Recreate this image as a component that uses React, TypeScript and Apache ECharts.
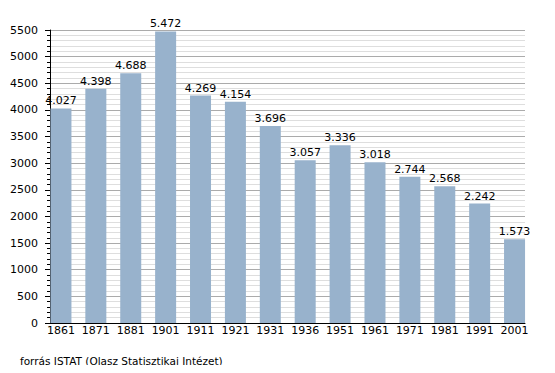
import React, { useEffect, useRef } from "react";
import * as echarts from "echarts";

const years = ["1861", "1871", "1881", "1901", "1911", "1921", "1931", "1936", "1951", "1961", "1971", "1981", "1991", "2001"];
const population = [4027, 4398, 4688, 5472, 4269, 4154, 3696, 3057, 3336, 3018, 2744, 2568, 2242, 1573];
const sourceNote = "forrás ISTAT (Olasz Statisztikai Intézet)";

const FONT = "DejaVu Sans";

function fmt(v: number): string {
  const th = Math.floor(v / 1000);
  const rest = String(v % 1000).padStart(3, "0");
  return th > 0 ? `${th}.${rest}` : String(v);
}

export default function App() {
  const ref = useRef<HTMLDivElement>(null);
  useEffect(() => {
    if (!ref.current) return;
    const chart = echarts.init(ref.current, null, { renderer: "svg" });
    chart.setOption({
      animation: false,
      backgroundColor: "#ffffff",
      textStyle: { fontFamily: FONT },
      grid: [
        { left: 50, right: 30, top: 30, bottom: 50 },
        { left: 43.5, right: 23, top: 30, bottom: 50 },
      ],
      xAxis: [
        {
          type: "category",
          gridIndex: 0,
          data: years,
          axisLine: { show: true, lineStyle: { color: "#000", width: 1 } },
          axisTick: { show: false },
          axisLabel: { show: false },
          splitLine: { show: false },
        },
        {
          type: "category",
          gridIndex: 1,
          data: years,
          axisLine: { show: false },
          axisTick: { show: false },
          axisLabel: { color: "#000", fontSize: 11, fontFamily: FONT, margin: 2, interval: 0 },
        },
      ],
      yAxis: [
        {
          type: "value",
          gridIndex: 0,
          min: 0,
          max: 5500,
          interval: 500,
          axisLine: { show: true, lineStyle: { color: "#000", width: 1 } },
          axisTick: { show: true, length: 5, lineStyle: { color: "#000" } },
          minorTick: { show: true, splitNumber: 5, length: 3, lineStyle: { color: "#000" } },
          axisLabel: {
            color: "#000",
            fontSize: 11,
            fontFamily: FONT,
            margin: 12,
            formatter: (v: number) => String(v),
          },
          splitLine: { show: true, lineStyle: { color: "#ababab", width: 1 } },
          minorSplitLine: { show: true, lineStyle: { color: "#dedede", width: 1 } },
        },
        {
          type: "value",
          gridIndex: 1,
          min: 0,
          max: 5500,
          interval: 500,
          show: false,
          splitLine: { show: false },
        },
      ],
      series: [
        {
          type: "bar",
          xAxisIndex: 1,
          yAxisIndex: 1,
          data: population,
          barWidth: 21,
          itemStyle: { color: "#98b2cc" },
          label: {
            show: true,
            position: "top",
            distance: 2,
            color: "#000",
            fontSize: 11,
            fontFamily: FONT,
            formatter: (p: any) => fmt(p.value),
          },
        },
      ],
      graphic: [
        {
          type: "text",
          left: 20,
          top: 355,
          style: { text: sourceNote, fill: "#000", font: `10.5px "${FONT}"` },
        },
      ],
    });
    return () => chart.dispose();
  }, []);
  return <div ref={ref} style={{ width: 555, height: 373, margin: -8 }} />;
}
